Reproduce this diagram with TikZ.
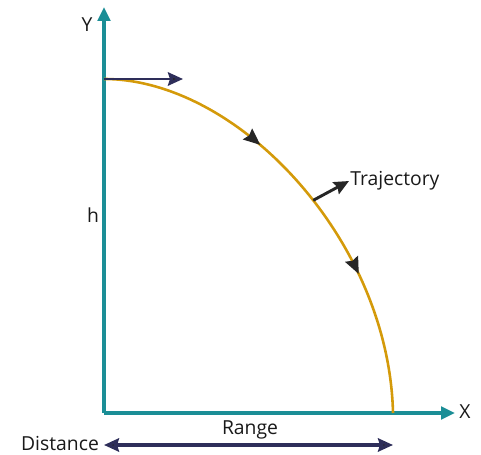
\documentclass[tikz,border=0pt]{standalone}
\usepackage{fontspec}
\setmainfont{Open Sans}
\usetikzlibrary{arrows.meta,positioning,decorations.markings}
\definecolor{axisteal}{HTML}{1B8E96}
\definecolor{pathgold}{HTML}{D49A0A}
\definecolor{navy}{HTML}{2E2E5A}

\begin{document}
\begin{tikzpicture}[
  x=0.03cm, y=-0.03cm,
  font=\fontsize{16.5}{18}\selectfont,
  axis/.style={draw=axisteal, line width=2.6pt, -{Triangle[length=4.2mm,width=3.8mm,fill=axisteal]}},
  curve/.style={draw=pathgold, line width=2.2pt},
  pointer/.style={draw=black!85, line width=2.5pt, -{Stealth[length=4.5mm,width=4mm,inset=0.6mm,fill=black!85]}},
  span/.style={draw=navy, line width=2.7pt, {Stealth[length=4.5mm,width=4mm,inset=0.6mm,fill=black!85]}-{Stealth[length=4.5mm,width=4mm,inset=0.6mm,fill=black!85]}},
  label/.style={inner sep=1pt, text=black!90},
  flow/.style={decoration={markings,
    mark=at position 0.36 with {\arrow{Stealth[length=5mm,width=4.2mm,inset=0.6mm,black!85,fill=black!85]}},
    mark=at position 0.70 with {\arrow{Stealth[length=5mm,width=4.2mm,inset=0.6mm,black!85,fill=black!85]}}},
    postaction={decorate}}
]
\useasboundingbox (0,0) rectangle (481,455);

% axes
\coordinate (origin) at (104,413);
\coordinate (ytip) at (104,7);
\coordinate (xtip) at (455,413);
\draw[axis] (origin) -- (ytip);
\draw[axis] (origin) -- (xtip);
\node[label] (ylab) at (87,25) {Y};
\node[label] (xlab) at (465,412) {X};
\node[label] (hlab) at (93,215) {h};

% launch velocity and path
\coordinate (launch) at (104,79);
\coordinate (vtip) at (183,79);
\coordinate (land) at (393,413);
\draw[curve, flow] (launch) .. controls (238,79) and (389,240) .. coordinate[pos=0.55] (trajpt) (land);
\draw[pointer, draw=navy] (launch) -- (vtip);

% labels
\node[label, anchor=west] (traj) at (349,181) {Trajectory};
\draw[pointer] (trajpt) -- (traj.west);

\node[label] (dist) at (60,443) {Distance};
\node[label] (range) at (250,430) {Range};
\coordinate (rleft) at (104,445);
\coordinate (rright) at (393,445);
\draw[span] (rleft) -- (rright);

\end{tikzpicture}
\end{document}
